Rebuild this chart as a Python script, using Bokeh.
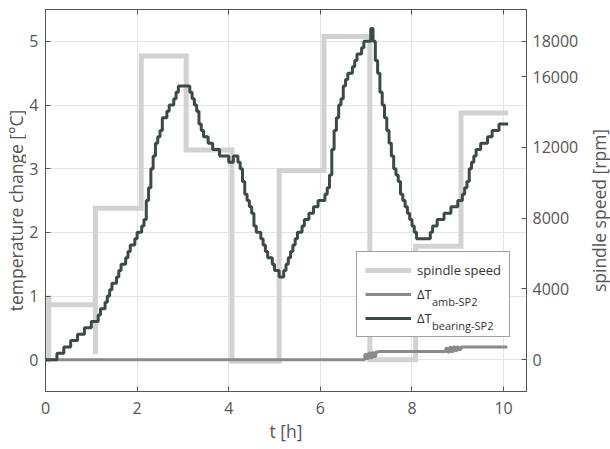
import math
import numpy as np
from bokeh.plotting import figure
from bokeh.layouts import row
from bokeh.models import Range1d, LinearAxis, FixedTicker, Legend, LegendItem, ColumnDataSource
from bokeh.core.properties import value
from bokeh.embed import file_html
from bokeh.resources import INLINE

# ---------------- data ----------------
# spindle speed path: time [h], speed [rpm]
spindle_t = [0.0, 0.07, 0.07, 0.07, 1.09, 1.09, 1.09, 2.09, 2.09, 3.07, 3.07, 4.07,
             4.07, 5.10, 5.10, 6.08, 6.08, 7.08, 7.08, 8.08, 8.08, 9.07, 9.07, 10.10]
spindle_rpm = [0, 0, 3630, 3110, 3110, 320, 8560, 8560, 17170, 17170, 11850, 11850,
               -90, -90, 10690, 10690, 18270, 18270, 0, 0, 6410, 6410, 13950, 13950]

# ambient temperature change (step values), time [h], dT [°C]
amb_t = [0.0, 6.97, 7.01, 7.05, 7.09, 7.13, 7.17, 7.21, 7.27, 8.74, 8.78, 8.82, 8.86,
         8.90, 8.94, 8.98, 9.02, 9.07, 10.08]
amb_dT = [0.0, 0.08, 0.02, 0.10, 0.03, 0.11, 0.05, 0.12, 0.13, 0.18, 0.12, 0.19, 0.13,
          0.20, 0.14, 0.20, 0.16, 0.20, 0.20]

# bearing temperature change, sampled every 0.05 h from 0 to 10.10 h
bearing_t = np.round(np.arange(0, 10.1001, 0.05), 2)
bearing_dT = [
    0, 0, 0, 0, 0, 0.1, 0.1, 0.1, 0.2, 0.2, 0.2, 0.3, 0.3, 0.3, 0.4, 0.4, 0.4, 0.5, 0.5, 0.5,
    0.6, 0.6, 0.6, 0.7, 0.8, 0.8, 0.9, 1.0, 1.1, 1.2, 1.2, 1.3, 1.4, 1.5, 1.5, 1.6, 1.7, 1.8, 1.8, 1.9,
    2.0, 2.0, 2.1, 2.2, 2.5, 2.7, 3.0, 3.2, 3.4, 3.5, 3.6, 3.8, 3.8, 3.9, 4.0, 4.0, 4.1, 4.2, 4.3, 4.3,
    4.3, 4.3, 4.3, 4.2, 4.1, 4.0, 3.9, 3.7, 3.6, 3.5, 3.5, 3.4, 3.4, 3.3, 3.3, 3.3, 3.2, 3.2, 3.2, 3.2,
    3.1, 3.1, 3.2, 3.2, 3.1, 3.0, 2.8, 2.6, 2.5, 2.4, 2.3, 2.1, 2.0, 2.0, 1.9, 1.8, 1.7, 1.6, 1.6, 1.5,
    1.4, 1.4, 1.3, 1.3, 1.4, 1.5, 1.6, 1.7, 1.8, 1.9, 2.0, 2.0, 2.1, 2.2, 2.2, 2.3, 2.3, 2.4, 2.4, 2.5,
    2.5, 2.5, 2.6, 2.7, 2.9, 3.3, 3.6, 3.8, 4.0, 4.1, 4.3, 4.4, 4.5, 4.5, 4.6, 4.7, 4.8, 4.8, 4.9, 5.0,
    5.0, 5.0, 5.2, 5.0, 4.7, 4.5, 4.2, 4.0, 3.8, 3.6, 3.4, 3.2, 3.0, 2.9, 2.8, 2.6, 2.5, 2.4, 2.3, 2.2,
    2.1, 2.0, 1.9, 1.9, 1.9, 1.9, 1.9, 1.9, 2.0, 2.1, 2.1, 2.2, 2.2, 2.2, 2.3, 2.3, 2.3, 2.4, 2.4, 2.4,
    2.5, 2.5, 2.6, 2.7, 2.8, 3.0, 3.1, 3.2, 3.3, 3.3, 3.4, 3.4, 3.4, 3.5, 3.5, 3.6, 3.6, 3.6, 3.7, 3.7,
    3.7, 3.7, 3.7,
]

x_ticks = [0, 2, 4, 6, 8, 10]
temp_ticks = [0, 1, 2, 3, 4, 5]
rpm_ticks = [0, 4000, 8000, 12000, 16000, 18000]

legend_main = ["spindle speed", "ΔT", "ΔT"]
legend_sub = ["amb-SP2", "bearing-SP2"]
left_title = "temperature change [°C]"
right_title = "spindle speed [rpm]"
x_title = "t [h]"

# ---------------- styling ----------------
FONT = "Open Sans"
AX_COL = "#555555"
TXT_COL = "#555555"
SPINDLE_COL = "#d2d2d2"
AMB_COL = "#8a8a8a"
BEAR_COL = "#3b4a47"
H = 449

p = figure(width=555, height=H, output_backend="svg", toolbar_location=None, title=None,
           x_range=Range1d(0, 10.5), y_range=Range1d(-0.5, 5.5),
           min_border_left=17, min_border_right=53, min_border_top=9, min_border_bottom=58)
p.extra_y_ranges = {"rpm": Range1d(-1800, 19800)}
p.background_fill_color = "white"
p.border_fill_color = "white"
p.outline_line_color = AX_COL
p.outline_line_width = 1

r_sp = p.line(spindle_t, spindle_rpm, y_range_name="rpm", line_color=SPINDLE_COL,
              line_width=5, line_join="miter")
r_amb = p.step(amb_t, amb_dT, mode="after", line_color=AMB_COL, line_width=3)
r_bear = p.step(bearing_t, bearing_dT, mode="after", line_color=BEAR_COL, line_width=3)

# grids
p.xgrid.ticker = FixedTicker(ticks=x_ticks)
p.ygrid.ticker = FixedTicker(ticks=temp_ticks)
for g in (p.xgrid[0], p.ygrid[0]):
    g.grid_line_color = "#e4e4e4"
    g.grid_line_width = 1


def style_axis(ax, label_size="16px"):
    ax.axis_line_color = AX_COL
    ax.major_tick_line_color = AX_COL
    ax.major_tick_in = 5
    ax.major_tick_out = 0
    ax.minor_tick_in = 0
    ax.minor_tick_out = 0
    ax.major_label_text_font = FONT
    ax.major_label_text_font_size = label_size
    ax.major_label_text_color = TXT_COL
    ax.axis_label_text_font = FONT
    ax.axis_label_text_font_size = "17.5px"
    ax.axis_label_text_font_style = "normal"
    ax.axis_label_text_color = TXT_COL


xa = p.xaxis[0]
xa.ticker = FixedTicker(ticks=x_ticks)
style_axis(xa)
xa.axis_label = x_title
xa.major_label_standoff = 10
xa.axis_label_standoff = 2

ya = p.yaxis[0]
ya.ticker = FixedTicker(ticks=temp_ticks)
style_axis(ya)
ya.major_label_standoff = 7

ra = LinearAxis(y_range_name="rpm", ticker=FixedTicker(ticks=rpm_ticks))
style_axis(ra)
ra.major_label_standoff = 6
p.add_layout(ra, "right")

ta = LinearAxis(ticker=FixedTicker(ticks=x_ticks))
style_axis(ta)
ta.major_label_text_font_size = "0px"
ta.major_label_standoff = 0
p.add_layout(ta, "above")

legend = Legend(items=[
    LegendItem(label=value(legend_main[0]), renderers=[r_sp]),
    LegendItem(label=value(legend_main[1]), renderers=[r_amb]),
    LegendItem(label=value(legend_main[2]), renderers=[r_bear]),
], location=(311, 54), padding=8, spacing=4, glyph_width=46, glyph_height=20,
    label_height=20, label_standoff=6, margin=0,
    border_line_color="#444444", border_line_width=1, background_fill_alpha=1,
    label_text_font=FONT, label_text_font_size="13px", label_text_color="#333333")
p.add_layout(legend)

# subscripts: a second, transparent legend whose labels sit right after "ΔT"
dummy = p.line(x=[], y=[], line_alpha=0)
sub_legend = Legend(items=[LegendItem(label=value(s), renderers=[dummy]) for s in legend_sub],
                    location=(311, 56), padding=0, spacing=4, glyph_width=76, glyph_height=20,
                    label_height=20, label_standoff=0, margin=0,
                    border_line_alpha=0, background_fill_alpha=0,
                    label_text_font=FONT, label_text_font_size="11px",
                    label_text_color="#333333")
p.add_layout(sub_legend)


def title_strip(w, text, tx, ty):
    """Narrow figure holding a vertical (bottom-to-top) axis title."""
    s = figure(frame_width=w, frame_height=H, output_backend="svg", toolbar_location=None,
               title=None, x_range=Range1d(0, w), y_range=Range1d(0, H),
               x_axis_location=None, y_axis_location=None,
               min_border_left=0, min_border_right=0, min_border_top=0, min_border_bottom=0)
    s.outline_line_color = None
    s.grid.visible = False
    s.background_fill_color = "white"
    s.border_fill_color = "white"
    src = ColumnDataSource(dict(x=[tx], y=[H - ty], text=[text]))
    s.text(x="x", y="y", text="text", source=src, angle=math.pi / 2,
           text_font=value(FONT), text_font_size=value("17.5px"), text_color=TXT_COL,
           text_align=value("center"), text_baseline=value("middle"))
    return s


left_strip = title_strip(26, left_title, 15, 201)
right_strip = title_strip(29, right_title, 17, 201)

layout = row(left_strip, p, right_strip, spacing=0)
open("out.html", "w").write(file_html(layout, INLINE))
